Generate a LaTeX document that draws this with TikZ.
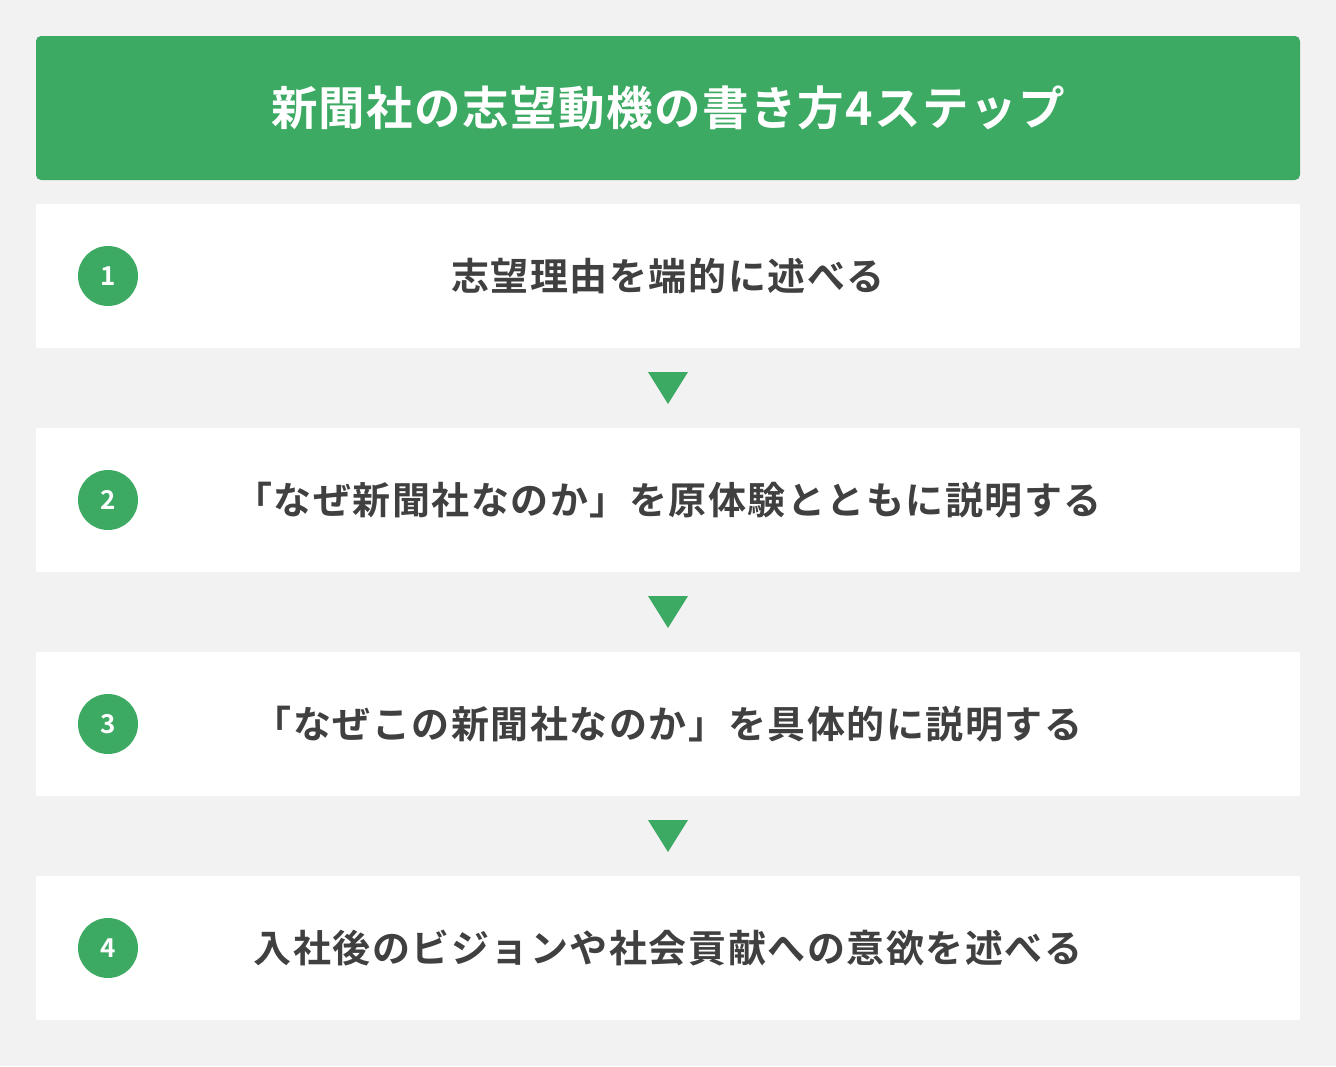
\documentclass[tikz,border=0pt]{standalone}
\usepackage{fontspec}
\setmainfont{Noto Sans CJK JP}[BoldFont={* Bold}]
\usepackage{xcolor}
\definecolor{vert}{HTML}{3DAA64}
\definecolor{fond}{HTML}{F2F2F2}
\definecolor{texte}{HTML}{404040}
\newfontfamily\titrefont{Noto Sans CJK JP}[BoldFont={* Bold},LetterSpace=3]
\newfontfamily\etapefont{Noto Sans CJK JP}[BoldFont={* Bold},LetterSpace=4]

\begin{document}
\begin{tikzpicture}[x=1pt,y=-1pt,
  boite/.style={fill=white, minimum width=1264pt, minimum height=144pt, inner sep=0pt},
  pastille/.style={circle, fill=vert, minimum size=60pt, inner sep=0pt, text=white, font=\bfseries\fontsize{26}{26}\selectfont},
  etape/.style={text=texte, font=\etapefont\bfseries\fontsize{38}{42}\selectfont}]

% fond
\fill[fond] (0,0) rectangle (1336,1066);

% titre
\node[boite, fill=vert, rounded corners=5pt, text=white, font=\titrefont\bfseries\fontsize{46.5}{50}\selectfont] (titre) at (668,108) {新聞社の志望動機の書き方4ステップ};

% etapes
\foreach \n/\y/\t in {1/276/志望理由を端的に述べる,
                      2/500/「なぜ新聞社なのか」を原体験とともに説明する,
                      3/724/「なぜこの新聞社なのか」を具体的に説明する,
                      4/948/入社後のビジョンや社会貢献への意欲を述べる}{
    \node[boite] (boite\n) at (668,\y) {};
    \node[pastille] (num\n) at (108,\y) {\n};
    \node[etape] (etape\n) at (boite\n.center) {\t};
}

% fleches
\foreach \y in {388,612,836}
    \fill[vert] (648,\y-16) -- (688,\y-16) -- (668,\y+16) -- cycle;

\end{tikzpicture}
\end{document}
